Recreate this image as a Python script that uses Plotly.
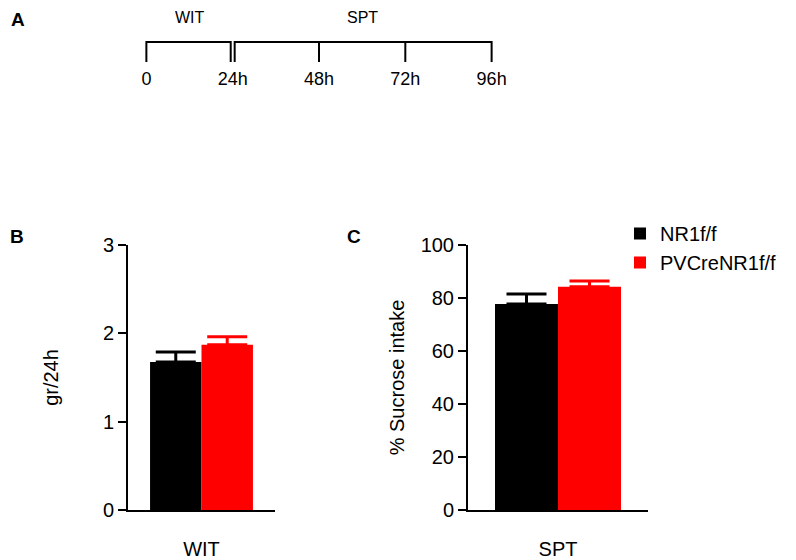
import plotly.graph_objects as go

# ---------------- data ----------------
genotypes = ["NR1f/f", "PVCreNR1f/f"]
colors = ["#000000", "#FF0000"]

wit_category = ["WIT"]
wit_means = [1.675, 1.87]      # gr/24h
wit_sem = [0.115, 0.09]

spt_category = ["SPT"]
spt_means = [77.7, 84.2]       # % sucrose intake
spt_sem = [3.8, 2.2]

hours = [0, 24, 48, 72, 96]
hour_labels = ["0", "24h", "48h", "72h", "96h"]
phases = ["WIT", "SPT"]
phase_start = [0, 24]
phase_end = [24, 96]

FONT = "Liberation Sans, Arial, Helvetica, sans-serif"
# page body has an 8px default margin; figure sized to fill the rest
OFF = 8
W, H = 796 - OFF, 560 - OFF

def px_x(p):
    return (p - OFF) / W

def px_y(p):
    return 1 - (p - OFF) / H

fig = go.Figure()

# ---------------- panel A: timeline ----------------
gap = 0.55
for i, ph in enumerate(phases):
    s = phase_start[i] + (gap if i > 0 else 0)
    e = phase_end[i] - (gap if i < len(phases) - 1 else 0)
    xs = [s, s, e, e]
    ys = [-1, 0, 0, -1]
    for h in hours:
        if phase_start[i] < h < phase_end[i]:
            xs += [None, h, h]
            ys += [None, 0, -1]
    fig.add_trace(go.Scatter(x=xs, y=ys, mode="lines",
                             line=dict(color="black", width=2),
                             xaxis="x3", yaxis="y3", showlegend=False,
                             hoverinfo="skip"))

for i, ph in enumerate(phases):
    fig.add_annotation(x=(phase_start[i] + phase_end[i]) / 2, y=px_y(18),
                       xref="x3", yref="paper", yanchor="middle",
                       text=ph, showarrow=False, borderpad=0,
                       font=dict(size=16, color="black", family=FONT))

# ---------------- panel B & C: bars ----------------
for i, g in enumerate(genotypes):
    fig.add_trace(go.Bar(
        x=wit_category, y=[wit_means[i]], name=g,
        marker=dict(color=colors[i], line=dict(width=0)),
        error_y=dict(type="data", array=[wit_sem[i]], arrayminus=[0],
                     symmetric=False, color=colors[i], thickness=3, width=20),
        xaxis="x", yaxis="y", showlegend=False, legendgroup=g))
for i, g in enumerate(genotypes):
    fig.add_trace(go.Bar(
        x=spt_category, y=[spt_means[i]], name=g,
        marker=dict(color=colors[i], line=dict(width=0)),
        error_y=dict(type="data", array=[spt_sem[i]], arrayminus=[0],
                     symmetric=False, color=colors[i], thickness=3, width=20),
        xaxis="x2", yaxis="y2", showlegend=True, legendgroup=g))

ydom = [px_y(510), px_y(245)]
axis_common = dict(showgrid=False, zeroline=False, showline=True,
                   linecolor="black", linewidth=2, automargin=False,
                   tickfont=dict(size=20, color="black", family=FONT))

fig.update_layout(
    template="none",
    width=W, height=H,
    margin=dict(l=0, r=0, t=0, b=0, pad=0, autoexpand=False),
    paper_bgcolor="white", plot_bgcolor="white",
    font=dict(family=FONT, color="black"),
    barmode="group", bargap=0.3, bargroupgap=0,
    xaxis=dict(domain=[px_x(128), px_x(275)], anchor="y", ticks="",
               ticklabelstandoff=20, **axis_common),
    yaxis=dict(domain=ydom, anchor="x", range=[0, 3], tickvals=[0, 1, 2, 3],
               ticks="outside", ticklen=8, tickwidth=2, tickcolor="black",
               title=dict(text="gr/24h", font=dict(size=20, family=FONT),
                          standoff=39),
               **axis_common),
    xaxis2=dict(domain=[px_x(468), px_x(648)], anchor="y2", ticks="",
                ticklabelstandoff=20, **axis_common),
    yaxis2=dict(domain=ydom, anchor="x2", range=[0, 100],
                tickvals=[0, 20, 40, 60, 80, 100],
                ticks="outside", ticklen=8, tickwidth=2, tickcolor="black",
                title=dict(text="% Sucrose intake", font=dict(size=20, family=FONT),
                           standoff=11),
                **axis_common),
    xaxis3=dict(domain=[px_x(132), px_x(506)], anchor="y3", range=[-4, 100],
                showgrid=False, zeroline=False, showline=False, ticks="",
                automargin=False,
                tickvals=hours, ticktext=hour_labels,
                tickfont=dict(size=18, color="black", family=FONT)),
    yaxis3=dict(domain=[px_y(66), px_y(38)], anchor="x3", range=[-1.2, 0.2],
                visible=False, automargin=False),
    legend=dict(x=px_x(620), y=px_y(214), xanchor="left", yanchor="top",
                font=dict(size=20, color="black", family=FONT),
                bgcolor="rgba(0,0,0,0)", tracegroupgap=0),
)

for letter, x, y in [("A", 18, 20), ("B", 17, 237), ("C", 354, 237)]:
    fig.add_annotation(x=px_x(x), y=px_y(y), xref="paper", yref="paper",
                       xanchor="center", yanchor="middle", borderpad=0,
                       text=f"<b>{letter}</b>", showarrow=False,
                       font=dict(size=19, color="black", family=FONT))

fig.write_html("out.html")
